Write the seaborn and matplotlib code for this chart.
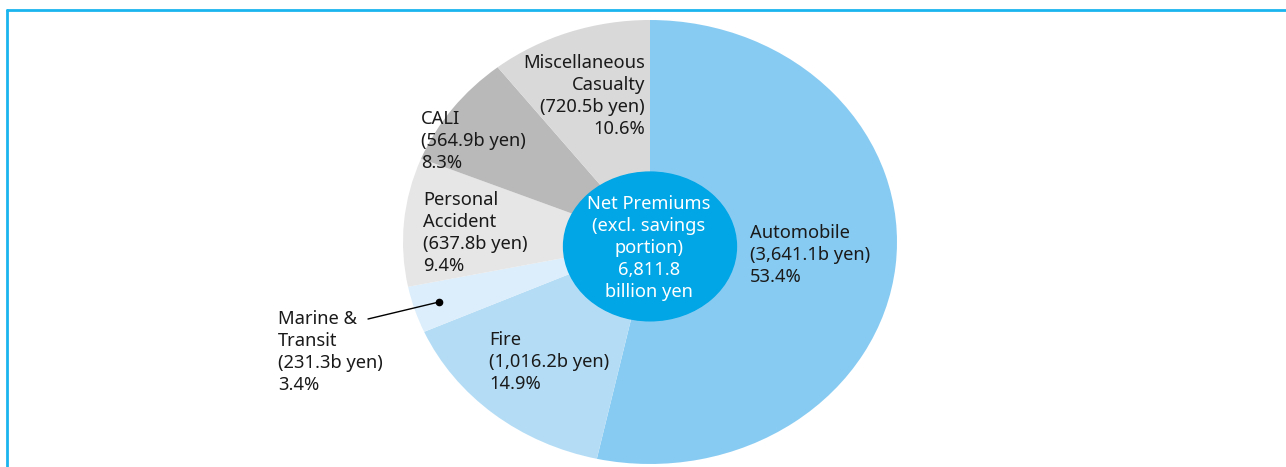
import matplotlib
matplotlib.use("Agg")
import matplotlib.pyplot as plt
import seaborn as sns
from matplotlib.lines import Line2D
from matplotlib.patches import Ellipse

# Data (billion yen, share %)
categories = ["Automobile", "Fire", "Marine &\nTransit", "Personal\nAccident", "CALI", "Miscellaneous\nCasualty"]
values = [3641.1, 1016.2, 231.3, 637.8, 564.9, 720.5]
shares = [53.4, 14.9, 3.4, 9.4, 8.3, 10.6]
total = "6,811.8"
colors = ["#88CBF2", "#B4DDF5", "#DCEEFB", "#E6E6E6", "#B9B9B9", "#D9D9D9"]

sns.set_theme(style="white")
plt.rcParams["font.family"] = ["Noto Sans", "DejaVu Sans"]

W, H = 1286, 467
fig = plt.figure(figsize=(W / 100, H / 100), dpi=100)

# pie axes (slightly wider than tall, as in the source)
pax = fig.add_axes([403 / W, 3 / H, 494 / W, 444 / H])
pax.pie(values, colors=colors, startangle=90, counterclock=False,
        radius=1, wedgeprops=dict(linewidth=0))
pax.add_patch(Ellipse((0, -0.02), 2 * 0.35, 2 * 0.335, color="#00A6E6", zorder=3))
pax.set_xlim(-1, 1)
pax.set_ylim(-1, 1)
pax.set_aspect("auto")
pax.axis("off")

# overlay axes in pixel coordinates for labels
ax = fig.add_axes([0, 0, 1, 1])
ax.set_xlim(0, W)
ax.set_ylim(H, 0)
ax.axis("off")
ax.patch.set_alpha(0)

ax.text(649, 248, f"Net Premiums\n(excl. savings\nportion)\n{total}\nbillion yen",
        ha="center", va="center", multialignment="center", color="white",
        fontsize=13.2, linespacing=1.3, zorder=4)


def label(i):
    return f"{categories[i]}\n({values[i]:,.1f}b yen)\n{shares[i]:.1f}%"


txt = dict(fontsize=13.2, color="#1A1A1A", linespacing=1.3, va="center")
ax.text(750, 255, label(0), ha="left", **txt)
ax.text(489, 362, label(1), ha="left", **txt)
ax.text(278, 352, label(2), ha="left", **txt)
ax.text(423, 233, label(3), ha="left", **txt)
ax.text(421, 141, label(4), ha="left", **txt)
ax.text(645, 96, label(5), ha="right", multialignment="right", **txt)

# leader line for Marine & Transit
ax.plot([368, 439], [319, 302], color="black", lw=1, zorder=5)
ax.plot([439], [302], "o", color="black", ms=4.5, zorder=5)

# frame (top and left edges only)
fc = "#1AB4EE"
fig.add_artist(Line2D([7 / W, 1], [1 - 10 / H, 1 - 10 / H], color=fc, lw=2, transform=fig.transFigure))
fig.add_artist(Line2D([7 / W, 7 / W], [0, 1 - 10 / H], color=fc, lw=2, transform=fig.transFigure))

fig.savefig("out.png", dpi=100)
